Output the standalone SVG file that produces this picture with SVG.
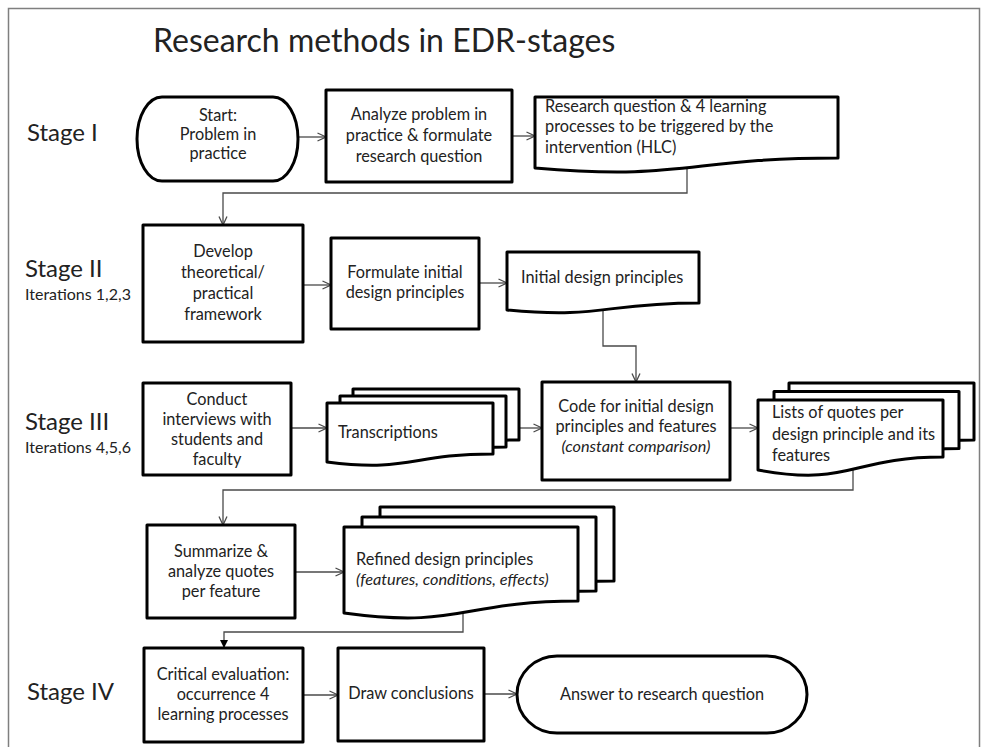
<svg xmlns="http://www.w3.org/2000/svg" width="989" height="747" viewBox="0 0 989 747">
  <style>
    text { font-family: Lato, "Liberation Sans", sans-serif; fill: #222; }
    .t { font-size: 16.3px; }
    .c { text-anchor: middle; }
    .i { font-style: italic; }
    .stage { font-size: 24px; }
    .iter { font-size: 16px; }
    .title { font-size: 32px; }
    .shape { fill: #fff; stroke: #000; stroke-width: 3; stroke-linejoin: round; }
    .conn { fill: none; stroke: #4a4a4a; stroke-width: 1.3; }
  </style>
  <defs>
    <marker id="open" viewBox="0 0 10 10" refX="9.5" refY="5" markerWidth="10" markerHeight="10" markerUnits="userSpaceOnUse" orient="auto">
      <path d="M1,1 L9.5,5 L1,9" fill="none" stroke="#4a4a4a" stroke-width="1.3"/>
    </marker>
    <marker id="solid" viewBox="0 0 10 10" refX="10" refY="5" markerWidth="8" markerHeight="8" markerUnits="userSpaceOnUse" orient="auto">
      <path d="M0,0 L10,5 L0,10 Z" fill="#000"/>
    </marker>
    <!-- stacked document pages -->
    <path id="docTrans" d="M327,403 H493 V454 C410,454 410,472.5 327,462 Z"/>
    <path id="docLists" d="M758,400 H943 V457 C850.5,457 850.5,487 758,470 Z"/>
    <path id="docRefined" d="M344,527 H578 V601 C461,601 461,629 344,613 Z"/>
  </defs>

  <!-- outer frame -->
  <rect x="8.5" y="8.5" width="971" height="760" fill="none" stroke="#7f7f7f" stroke-width="1.5"/>

  <text class="title" x="153" y="52">Research methods in EDR-stages</text>

  <!-- stage labels -->
  <g id="stage-labels">
    <text class="stage" x="27" y="141">Stage I</text>
    <text class="stage" x="25" y="277">Stage II</text>
    <text class="iter" x="25" y="300">Iterations 1,2,3</text>
    <text class="stage" x="25" y="430">Stage III</text>
    <text class="iter" x="25" y="453">Iterations 4,5,6</text>
    <text class="stage" x="27" y="700">Stage IV</text>
  </g>

  <!-- connectors -->
  <g id="connectors">
    <path class="conn" d="M298,137 H326" marker-end="url(#open)"/>
    <path class="conn" d="M512,136 H535" marker-end="url(#open)"/>
    <path class="conn" d="M687,168 V193 H223 V225" marker-end="url(#open)"/>
    <path class="conn" d="M303,285 H331" marker-end="url(#open)"/>
    <path class="conn" d="M479,283 H507" marker-end="url(#open)"/>
    <path class="conn" d="M603,310 V346 H636 V382" marker-end="url(#open)"/>
    <path class="conn" d="M291,428 H327" marker-end="url(#open)"/>
    <path class="conn" d="M519,428 H542" marker-end="url(#open)"/>
    <path class="conn" d="M730,428 H758" marker-end="url(#open)"/>
    <path class="conn" d="M853,470 V490 H223 V525" marker-end="url(#open)"/>
    <path class="conn" d="M295,572 H344" marker-end="url(#open)"/>
    <path class="conn" d="M463,613 V632 H224 V648" marker-end="url(#solid)"/>
    <path class="conn" d="M303,695 H338" marker-end="url(#open)"/>
    <path class="conn" d="M484,694 H517" marker-end="url(#open)"/>
  </g>

  <!-- Stage I -->
  <g id="start">
    <path class="shape" d="M162,97 H273 A25,42 0 0 1 273,181 H162 A25,42 0 0 1 162,97 Z"/>
    <text class="t c" x="218" y="121">Start:</text>
    <text class="t c" x="218" y="140">Problem in</text>
    <text class="t c" x="218" y="159">practice</text>
  </g>
  <g id="analyze">
    <rect class="shape" x="326" y="90" width="186" height="92"/>
    <text class="t c" x="419" y="120">Analyze problem in</text>
    <text class="t c" x="419" y="141">practice &amp; formulate</text>
    <text class="t c" x="419" y="162">research question</text>
  </g>
  <g id="research-question">
    <path class="shape" d="M535,97 H838 V158 C686.5,158 686.5,181 535,168 Z"/>
    <text class="t" x="545" y="112">Research question &amp; 4 learning</text>
    <text class="t" x="545" y="132">processes to be triggered by the</text>
    <text class="t" x="545" y="153">intervention (HLC)</text>
  </g>

  <!-- Stage II -->
  <g id="develop">
    <rect class="shape" x="143" y="225" width="160" height="117"/>
    <text class="t c" x="223" y="257">Develop</text>
    <text class="t c" x="223" y="278">theoretical/</text>
    <text class="t c" x="223" y="299">practical</text>
    <text class="t c" x="223" y="320">framework</text>
  </g>
  <g id="formulate">
    <rect class="shape" x="331" y="238" width="148" height="91"/>
    <text class="t c" x="405" y="278">Formulate initial</text>
    <text class="t c" x="405" y="298">design principles</text>
  </g>
  <g id="initial-principles">
    <path class="shape" d="M507,252 H699 V303 C603,303 603,319 507,310 Z"/>
    <text class="t" x="521" y="283">Initial design principles</text>
  </g>

  <!-- Stage III -->
  <g id="conduct">
    <rect class="shape" x="143" y="383" width="148" height="92"/>
    <text class="t c" x="217" y="405">Conduct</text>
    <text class="t c" x="217" y="425">interviews with</text>
    <text class="t c" x="217" y="445">students and</text>
    <text class="t c" x="217" y="465">faculty</text>
  </g>
  <g id="transcriptions">
    <use href="#docTrans" class="shape" transform="translate(26,-14)"/>
    <use href="#docTrans" class="shape" transform="translate(13,-7)"/>
    <use href="#docTrans" class="shape"/>
    <text class="t" x="338" y="438">Transcriptions</text>
  </g>
  <g id="code">
    <rect class="shape" x="542" y="382" width="188" height="98"/>
    <text class="t c" x="636" y="412">Code for initial design</text>
    <text class="t c" x="636" y="432">principles and features</text>
    <text class="t c i" x="636" y="452">(constant comparison)</text>
  </g>
  <g id="quote-lists">
    <use href="#docLists" class="shape" transform="translate(31,-17)"/>
    <use href="#docLists" class="shape" transform="translate(16,-8.5)"/>
    <use href="#docLists" class="shape"/>
    <text class="t" x="772" y="418">Lists of quotes per</text>
    <text class="t" x="772" y="440">design principle and its</text>
    <text class="t" x="772" y="461">features</text>
  </g>
  <g id="summarize">
    <rect class="shape" x="147" y="525" width="148" height="93"/>
    <text class="t c" x="221" y="557">Summarize &amp;</text>
    <text class="t c" x="221" y="577">analyze quotes</text>
    <text class="t c" x="221" y="597">per feature</text>
  </g>
  <g id="refined-principles">
    <use href="#docRefined" class="shape" transform="translate(36,-20)"/>
    <use href="#docRefined" class="shape" transform="translate(18,-10)"/>
    <use href="#docRefined" class="shape"/>
    <text class="t" x="356" y="565">Refined design principles</text>
    <text class="t i" x="356" y="585">(features, conditions, effects)</text>
  </g>

  <!-- Stage IV -->
  <g id="critical">
    <rect class="shape" x="144" y="648" width="159" height="94"/>
    <text class="t c" x="223" y="680">Critical evaluation:</text>
    <text class="t c" x="223" y="700">occurrence 4</text>
    <text class="t c" x="223" y="720">learning processes</text>
  </g>
  <g id="conclusions">
    <rect class="shape" x="338" y="648" width="146" height="93"/>
    <text class="t c" x="411" y="699">Draw conclusions</text>
  </g>
  <g id="answer">
    <path class="shape" d="M557,656 H767 A40,38.5 0 0 1 767,733 H557 A40,38.5 0 0 1 557,656 Z"/>
    <text class="t c" x="662" y="700">Answer to research question</text>
  </g>
</svg>
